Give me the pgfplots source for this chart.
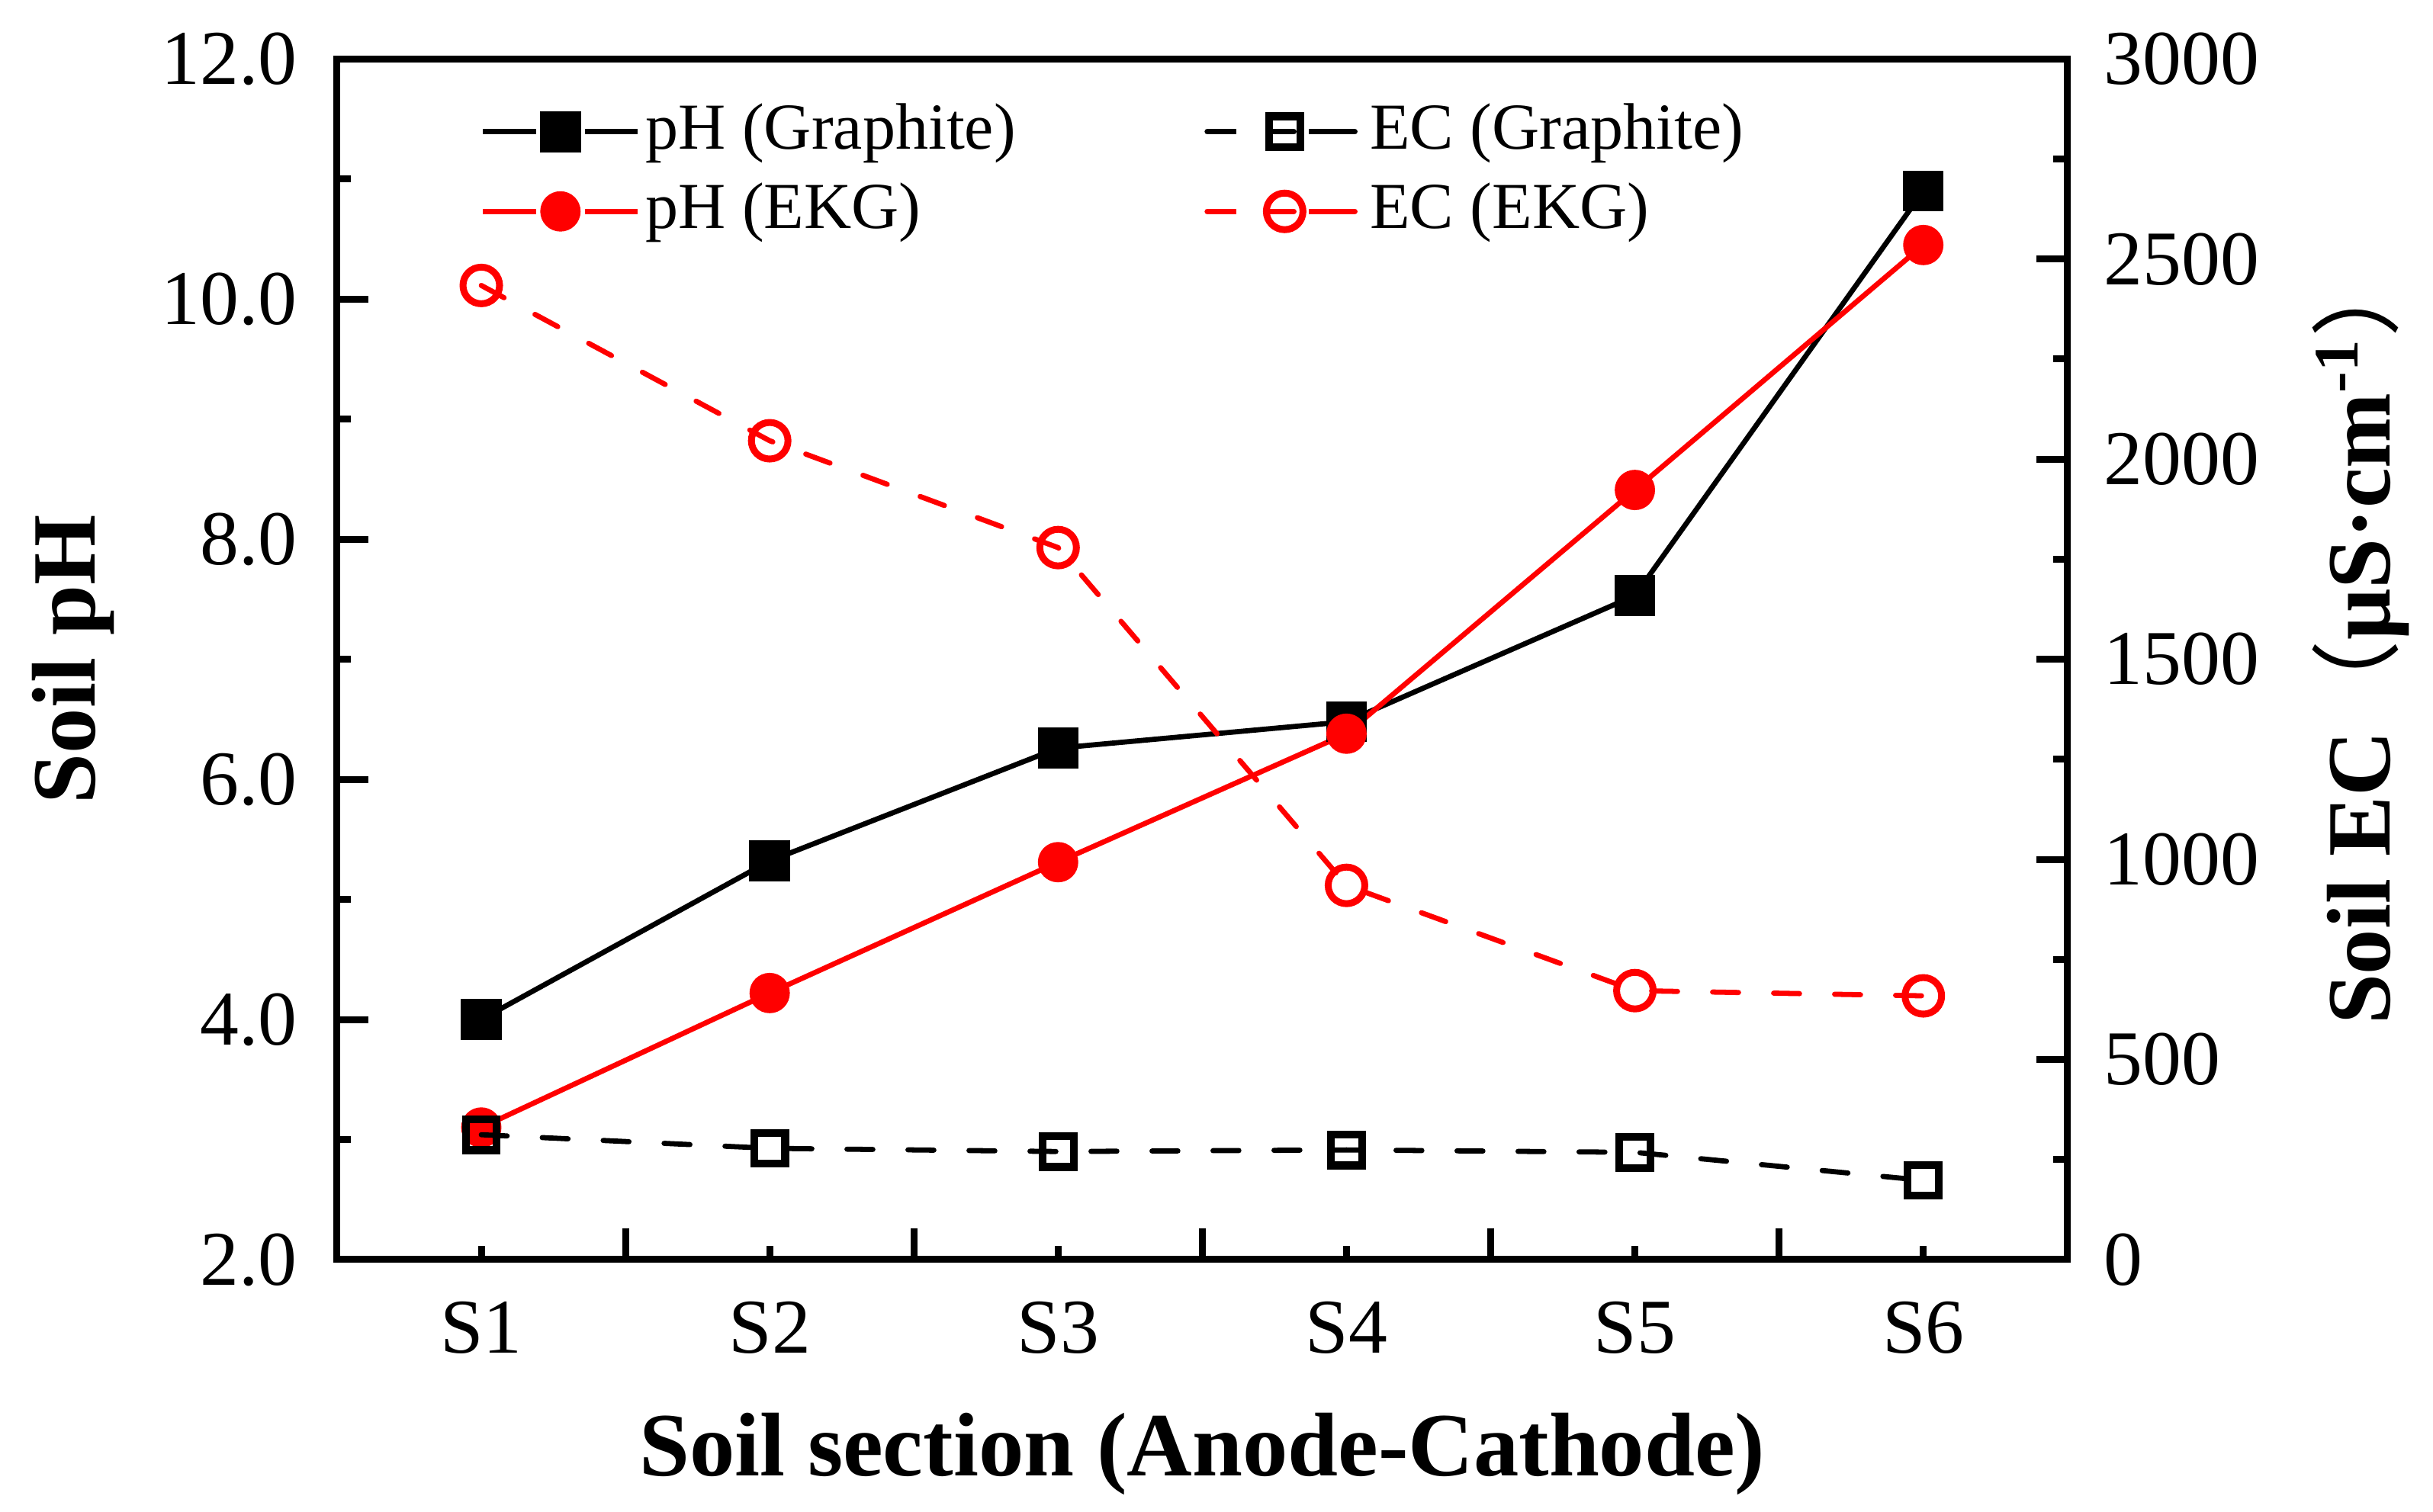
\documentclass[border=0pt]{standalone}
\usepackage{fontspec}
\setmainfont{Liberation Serif}
\newfontfamily\cjk{Noto Sans CJK SC}
\usepackage{pgfplots}
\pgfplotsset{compat=1.18}
\definecolor{myred}{RGB}{255,0,0}

\pgfplotstableread{
x pHG pHE
1 4.00 3.10
2 5.32 4.22
3 6.26 5.31
4 6.48 6.38
5 7.53 8.41
6 10.90 10.45
}\phdata
\pgfplotstableread{
x ECG ECE
1 312 2434
2 278 2046
3 270 1779
4 274 935
5 268 672
6 198 659
}\ecdata

\pgfplotsset{
  solidleg/.style={legend image code/.code={
      \draw[##1,mark=none] (0pt,0.3pt) -- (10.3pt,0.3pt) (19.7pt,0.3pt) -- (30pt,0.3pt);
      \draw[##1] plot[only marks] coordinates {(15pt,0.3pt)};
  }},
  dashleg/.style={legend image code/.code={
      \path (0pt,0.3pt) -- (30pt,0.3pt);
      \draw[##1,mark=none,solid,line cap=butt] (0pt,0.3pt) -- (5.6pt,0.3pt) (19.7pt,0.3pt) -- (25.8pt,0.3pt);
      \draw[##1,solid] plot[only marks] coordinates {(15pt,0.3pt)};
  }},
  pHGstyle/.style={black, line width=1pt, mark=square*, mark size=3.45pt, mark options={solid}},
  pHEstyle/.style={myred, line width=1pt, mark=*, mark size=3.4pt, mark options={solid}},
  ECGstyle/.style={black, line width=1pt, dash pattern=on 5pt off 6.8pt, line cap=round, mark=square, mark size=3.0pt, mark options={solid, line width=1.5pt, fill=white}},
  ECEstyle/.style={myred, line width=1pt, dash pattern=on 5pt off 6.8pt, line cap=round, mark=o, mark size=3.54pt, mark options={solid, line width=1.33pt, fill=white}},
  commonax/.style={
    scale only axis, width=334.7pt, height=232.3pt,
    xmin=0.5, xmax=6.5,
    axis line style={line width=1.33pt},
    tick style={line width=1.33pt, black},
    tick align=inside,
    major tick length=6pt, minor tick length=2.7pt,
    tick label style={font=\fontsize{15}{18}\selectfont},
    /pgf/number format/assume math mode=true,
  },
}

\begin{document}
\begin{tikzpicture}
\begin{axis}[
  commonax,
  at={(0,0)}, anchor=south west,
  ymin=2, ymax=12,
  xtick={1.5,2.5,3.5,4.5,5.5}, xticklabels={},
  minor xtick={1,2,3,4,5,6},
  extra x ticks={1,2,3,4,5,6},
  extra x tick labels={S1,S2,S3,S4,S5,S6},
  extra x tick style={major tick length=0pt, tick style={draw=none}},
  xticklabel style={inner sep=0pt, anchor=north, yshift=-8pt},
  xtick pos=left, ytick pos=left,
  ytick={2,4,...,12}, minor y tick num=1,
  yticklabel style={/pgf/number format/.cd, fixed, fixed zerofill, precision=1, /tikz/.cd, inner sep=0pt, anchor=east, xshift=-7.5pt},
  xlabel={Soil section (Anode-Cathode)},
  every axis x label/.style={at={(rel axis cs:0.5,0)}, anchor=base, yshift=-41.9pt, font=\fontsize{17.5}{21}\bfseries\selectfont},
  ylabel={Soil pH},
  every axis y label/.style={at={(rel axis cs:0,0.5)}, rotate=90, anchor=base, yshift=46.8pt, font=\fontsize{17.5}{21}\bfseries\selectfont},
  legend columns=2,
  legend cell align=left,
  legend style={at={(rel axis cs:0,1)}, anchor=north west, xshift=27.7pt, yshift=-8.4pt,
    draw=none, fill=none, inner sep=0pt, outer sep=0pt,
    font=\fontsize{12.7}{15}\selectfont, row sep=3.4pt,
    nodes={inner sep=0pt, text height=9pt, text depth=3pt},
    /tikz/every odd column/.append style={column sep=1pt},
    /tikz/every even column/.append style={column sep=36.5pt}},
]
\addplot[pHGstyle, solidleg] table[x=x, y=pHG] {\phdata};
\addlegendentry{pH (Graphite)}
\addlegendimage{ECGstyle, dashleg}
\addlegendentry{EC (Graphite)}
\addplot[pHEstyle, solidleg] table[x=x, y=pHE] {\phdata};
\addlegendentry{pH (EKG)}
\addlegendimage{ECEstyle, dashleg}
\addlegendentry{EC (EKG)}
\end{axis}
\begin{axis}[
  commonax,
  at={(0,0)}, anchor=south west,
  ymin=0, ymax=3000,
  axis x line=none, axis y line*=right,
  ytick={0,500,...,3000}, minor y tick num=1, ytick pos=right,
  yticklabel style={/pgf/number format/1000 sep={}, inner sep=0pt, anchor=west, xshift=6.9pt},
  ylabel={Soil EC{\cjk\mdseries （}μS·cm\textsuperscript{-1}{\cjk\mdseries ）}},
  every axis y label/.style={at={(rel axis cs:1,0.5)}, rotate=90, anchor=base, yshift=-62.4pt, xshift=4.5pt, font=\fontsize{17.5}{21}\bfseries\selectfont},
]
\addplot[ECGstyle] table[x=x, y=ECG] {\ecdata};
\addplot[ECEstyle] table[x=x, y=ECE] {\ecdata};
\end{axis}
\pgfresetboundingbox
\path[use as bounding box] (-65.2pt,-48.7pt) rectangle (405.4pt,243.7pt);
\end{tikzpicture}
\end{document}
